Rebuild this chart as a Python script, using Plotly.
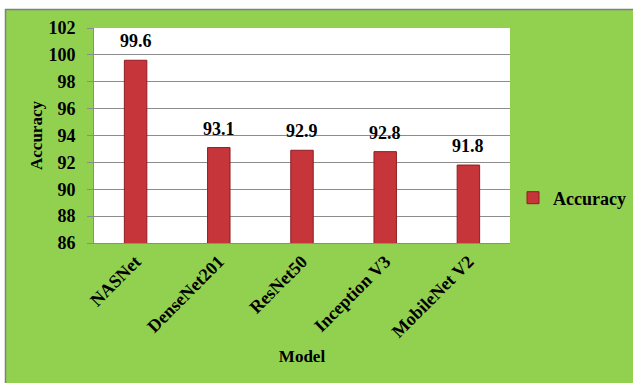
import plotly.graph_objects as go

# Model accuracy comparison
models = ["NASNet", "DenseNet201", "ResNet50", "Inception V3", "MobileNet V2"]
accuracy = [99.6, 93.1, 92.9, 92.8, 91.8]
y_ticks = [86, 88, 90, 92, 94, 96, 98, 100, 102]

W, H = 633, 383
L, R, T, B = 94, 123, 28, 140

serif = "Liberation Serif, Times New Roman, serif"
green = "#92d050"

fig = go.Figure()
fig.add_trace(go.Bar(
    x=models,
    y=accuracy,
    name="<b>Accuracy</b>",
    marker=dict(color="#c6353a", line=dict(color="#8e1d22", width=1)),
    cliponaxis=False,
))

# value labels above each bar
for m, v in zip(models, accuracy):
    fig.add_annotation(x=m, y=v, text=f"<b>{v:.1f}</b>", showarrow=False,
                       yanchor="bottom", yshift=7,
                       font=dict(family=serif, size=18, color="black"))

pw, ph = W - L - R, H - T - B
def px(x):
    return (x - L) / pw
def py(y):
    return (H - B - y) / ph

fig.update_layout(
    width=W, height=H,
    margin=dict(l=L, r=R, t=T, b=B, autoexpand=False),
    paper_bgcolor=green,
    plot_bgcolor="white",
    bargap=0.73,
    font=dict(family=serif, color="black"),
    showlegend=True,
    legend=dict(
        x=px(513), y=py(198),
        xanchor="left", yanchor="middle",
        bgcolor="rgba(0,0,0,0)",
        font=dict(family=serif, size=18, color="black"),
        itemwidth=30,
    ),
    xaxis=dict(
        tickangle=-45,
        tickvals=models,
        ticktext=[f"<b>{m}</b>" for m in models],
        tickfont=dict(family=serif, size=18, color="black"),
        showline=True, linecolor="#8c8c8c", linewidth=1,
        title=dict(text="<b>Model</b>", font=dict(family=serif, size=17), standoff=9),
    ),
    yaxis=dict(
        range=[86, 102],
        tickvals=y_ticks,
        ticktext=[f"<b>{v}</b>" for v in y_ticks],
        tickfont=dict(family=serif, size=18, color="black"),
        ticklabelstandoff=8,
        showgrid=True, gridcolor="#8c8c8c", gridwidth=1,
        showline=True, linecolor="#8c8c8c", linewidth=1,
        ticks="outside", ticklen=6, tickcolor="#8c8c8c",
        title=dict(text="<b>Accuracy</b>", font=dict(family=serif, size=17), standoff=1),
        zeroline=False,
    ),
)

# white strips and gray frame lines along top and left edges
fig.add_shape(type="rect", xref="paper", yref="paper",
              x0=px(0), x1=px(W), y0=py(0), y1=py(9),
              fillcolor="white", line=dict(width=0), layer="below")
fig.add_shape(type="rect", xref="paper", yref="paper",
              x0=px(0), x1=px(5), y0=py(0), y1=py(H),
              fillcolor="white", line=dict(width=0), layer="below")
fig.add_shape(type="line", xref="paper", yref="paper",
              x0=px(5), x1=px(W), y0=py(9.5), y1=py(9.5),
              line=dict(color="#808080", width=1.5))
fig.add_shape(type="line", xref="paper", yref="paper",
              x0=px(5.5), x1=px(5.5), y0=py(9), y1=py(H),
              line=dict(color="#808080", width=1.5))

fig.write_html("out.html")
